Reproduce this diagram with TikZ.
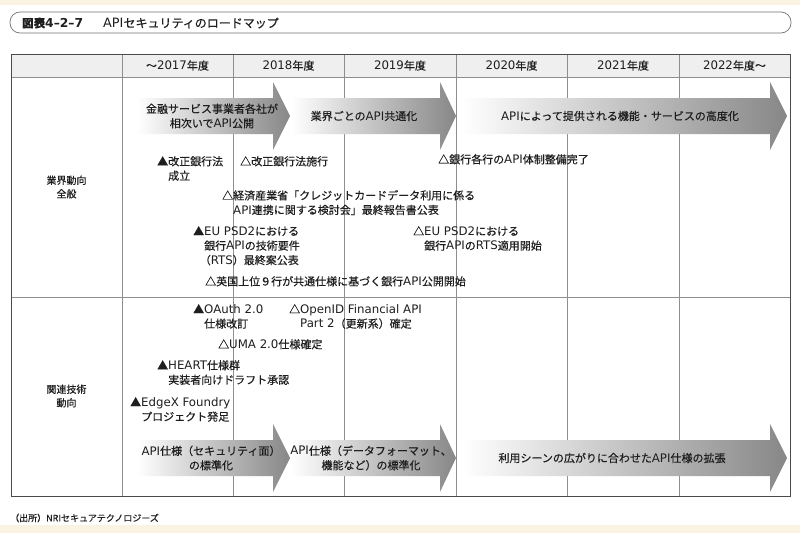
\documentclass[tikz,border=0pt]{standalone}
\usepackage{fontspec}
\setmainfont{Noto Sans CJK JP}[FakeBold=0.35]
\newfontfamily\latfont{DejaVu Sans}[Scale=1.07]

\definecolor{cream}{HTML}{FBF3E1}
\definecolor{rule}{HTML}{8E8E8E}
\definecolor{frame}{HTML}{4A4A4A}
\definecolor{headfill}{HTML}{EFEFEF}
\definecolor{ink}{HTML}{1E1E1E}

\newcommand{\evtfont}{\fontsize{11}{14.5}\selectfont}
\newcommand{\lblfont}{\fontsize{10}{13.5}\selectfont}
\newcommand{\lt}[1]{{\latfont #1}}

\tikzset{
  evt/.style={anchor=north west, inner sep=0pt, align=left, font=\evtfont, text=ink},
  lbl/.style={align=center, inner sep=0pt, font=\lblfont, text=ink},
  band/.style={left color=white, right color=black!47, draw=none},
}

\begin{document}
\begin{tikzpicture}[x=1pt, y=-1pt]

        \useasboundingbox (0,0) rectangle (800,533);
        \fill[white] (0,0) rectangle (800,533);
        \fill[cream] (0,0) rectangle (800,5);
        \fill[cream] (0,525) rectangle (800,533);

        % title
        \draw[black!55, line width=0.7pt, rounded corners=10pt] (10,12) rectangle (791,33);
        \node[anchor=west, inner sep=0pt, font=\fontsize{11.5}{13}\selectfont\bfseries, text=ink] (TN) at (22,23) {図表\lt{4–2–7}};
        \node[anchor=west, inner sep=0pt, font=\fontsize{12}{13}\selectfont, text=ink] (TT) at (103,23) {\lt{API}セキュリティのロードマップ};

        % table
        \fill[headfill] (11,54) rectangle (790,77);
        \foreach \x in {122,233,344,456,567,679}
          \draw[rule, line width=0.6pt] (\x,54) -- (\x,496);
        \draw[rule, line width=0.6pt] (11,77) -- (790,77);
        \draw[rule, line width=0.6pt] (11,297) -- (790,297);
        \draw[frame, line width=0.9pt] (11,54) rectangle (790,496);

        \node[lbl, font=\evtfont] (Y17) at (177.5,65.5) {～\lt{2017}年度};
        \node[lbl, font=\evtfont] (Y18) at (288.5,65.5) {\lt{2018}年度};
        \node[lbl, font=\evtfont] (Y19) at (400,65.5)   {\lt{2019}年度};
        \node[lbl, font=\evtfont] (Y20) at (511.5,65.5) {\lt{2020}年度};
        \node[lbl, font=\evtfont] (Y21) at (623,65.5)   {\lt{2021}年度};
        \node[lbl, font=\evtfont] (Y22) at (734.5,65.5) {\lt{2022}年度～};

        \node[lbl] (RA) at (66.5,187) {業界動向\\全般};
        \node[lbl] (RB) at (66.5,396) {関連技術\\動向};

        % shaded arrows
        \foreach \xa/\xb/\xc/\yc in {137/273/290/116, 291/440/456/116, 462/770/787/116,
                                     137/273/290/458, 291/440/456/458, 462/770/787/458}
          \path[band] (\xa,\yc-18) -- (\xb,\yc-18) -- (\xb,\yc-34) -- (\xc,\yc)
                      -- (\xb,\yc+34) -- (\xb,\yc+18) -- (\xa,\yc+18) -- cycle;

        \node[lbl, font=\evtfont] (A1) at (212,116) {金融サービス事業者各社が\\相次いで\lt{API}公開};
        \node[lbl, font=\evtfont] (A2) at (364,116) {業界ごとの\lt{API}共通化};
        \node[lbl, font=\evtfont] (A3) at (620,116) {\lt{API}によって提供される機能・サービスの高度化};
        \node[lbl, font=\evtfont] (B1) at (211,458) {\lt{API}仕様（セキュリティ面）\\の標準化};
        \node[lbl, font=\evtfont] (B2) at (371,458) {\lt{API}仕様（データフォーマット、\\機能など）の標準化};
        \node[lbl, font=\evtfont] (B3) at (612,458) {利用シーンの広がりに合わせた\lt{API}仕様の拡張};

        % events
        \node[evt] (E1)  at (157,156) {▲改正銀行法\\\phantom{▲}成立};
        \node[evt] (E2)  at (240,156) {△改正銀行法施行};
        \node[evt] (E3)  at (438,154) {△銀行各行の\lt{API}体制整備完了};
        \node[evt] (E4)  at (222,190) {△経済産業省「クレジットカードデータ利用に係る\\\phantom{△}\lt{API}連携に関する検討会」最終報告書公表};
        \node[evt] (E5)  at (193,226) {▲\lt{EU PSD2}における\\\phantom{▲}銀行\lt{API}の技術要件\\\phantom{▲}\hspace{-0.4em}（\lt{RTS}）最終案公表};
        \node[evt] (E6)  at (413,226) {△\lt{EU PSD2}における\\\phantom{△}銀行\lt{API}の\lt{RTS}適用開始};
        \node[evt] (E7)  at (205,276) {△英国上位９行が共通仕様に基づく銀行\lt{API}公開開始};
        \node[evt] (E8)  at (193,304) {▲\lt{OAuth 2.0}\\\phantom{▲}仕様改訂};
        \node[evt] (E9)  at (289,304) {△\lt{OpenID Financial API}\\\phantom{△}\lt{Part 2}（更新系）確定};
        \node[evt] (E10) at (218,339) {△\lt{UMA 2.0}仕様確定};
        \node[evt] (E11) at (157,360) {▲\lt{HEART}仕様群\\\phantom{▲}実装者向けドラフト承認};
        \node[evt] (E12) at (130,397) {▲\lt{EdgeX Foundry}\\\phantom{▲}プロジェクト発足};

        % source
        \node[anchor=west, inner sep=0pt, font=\fontsize{9}{11}\selectfont, text=ink] (SRC) at (10,518) {（出所）NRIセキュアテクノロジーズ};

\end{tikzpicture}
\end{document}
